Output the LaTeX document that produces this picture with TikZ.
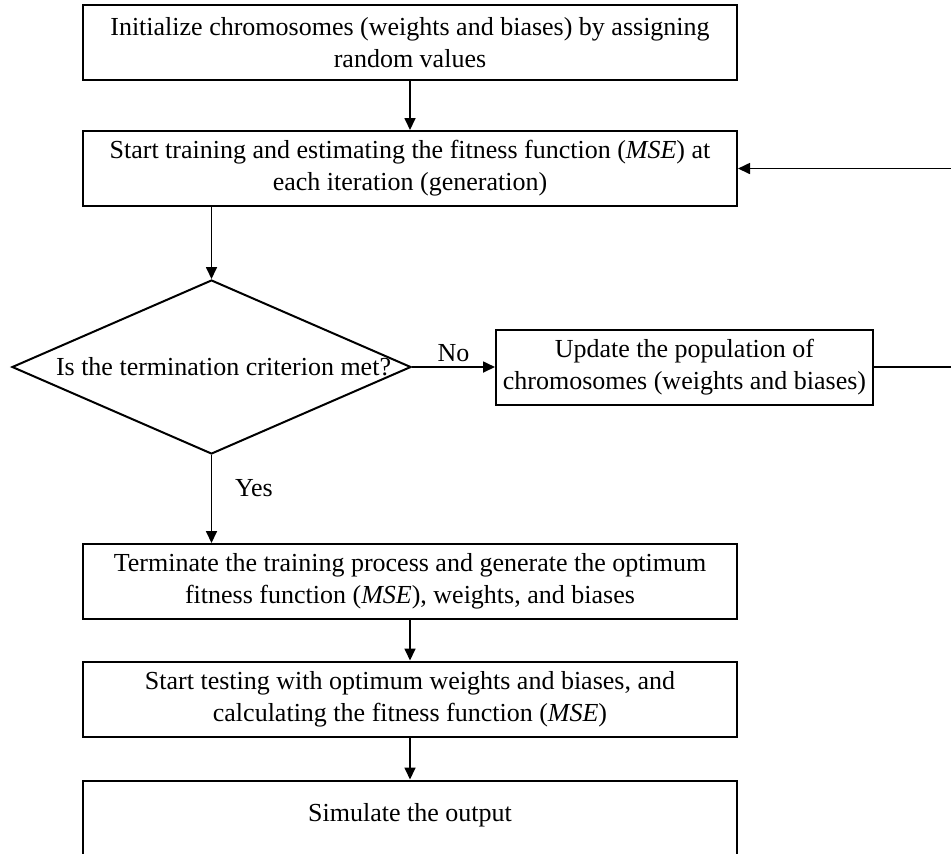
\documentclass[tikz,border=0pt]{standalone}
\usepackage{fontspec}
\setmainfont{Liberation Serif}
\usetikzlibrary{arrows.meta,shapes.geometric}
\tikzset{
  stepbox/.style={draw,line width=1pt,minimum width=327pt,minimum height=37.5pt,align=center,inner sep=0pt},
  decision/.style={diamond,draw,line width=1pt,minimum width=199.5pt,minimum height=87pt,inner sep=0pt},
  flow/.style={line width=0.85pt,-{Triangle[length=6pt,width=5.5pt]}}
}
\begin{document}
\begin{tikzpicture}[x=0.5pt,y=-0.5pt,font=\fontsize{13}{16}\selectfont]
            \useasboundingbox (0,0) rectangle (951,853);
            % the main column of steps
            \node[stepbox] (init) at (410,42.5) {Initialize chromosomes (weights and biases) by assigning\\random values};
            \node[stepbox] (train) at (410,168.5) {Start training and estimating the fitness function (\textit{MSE}) at\\each iteration (generation)};
            \node[decision] (check) at (211.5,367) {\makebox[0pt]{\hspace{12pt}Is the termination criterion met?}};
            \node[stepbox,minimum width=188.5pt] (update) at (684.5,367) {Update the population of\\chromosomes (weights and biases)};
            \node[stepbox] (stop) at (410,581.5) {Terminate the training process and generate the optimum\\fitness function (\textit{MSE}), weights, and biases};
            \node[stepbox] (test) at (410,699) {Start testing with optimum weights and biases, and\\calculating the fitness function (\textit{MSE})};
            \node[stepbox] (sim) at (410,818) {\raisebox{6pt}{Simulate the output}};
            \coordinate (back) at (953,367);
            % arrows down the column
            \draw[flow] (init) -- (train);
            \draw[flow] (train.south -| check.north) -- (check.north);
            \draw[flow] (check.south) -- (stop.north -| check.south) node[pos=0.38,right=8pt] {Yes};
            \draw[flow] (stop) -- (test);
            \draw[flow] (test) -- (sim);
            % loop back when not finished
            \draw[flow] (check.east) -- (update.west) node[midway,above=-1pt] {No};
            \draw[flow] (update.east) -- (back) |- (train.east);
        \end{tikzpicture}
\end{document}
